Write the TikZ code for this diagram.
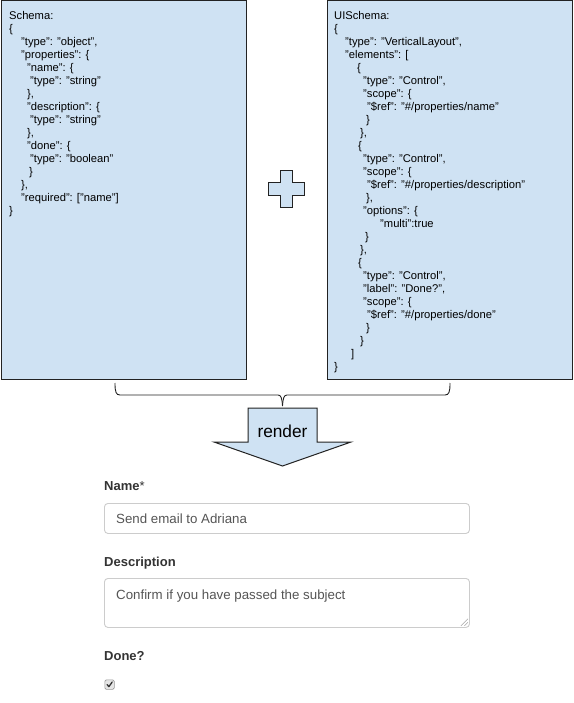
\documentclass[tikz,border=0pt]{standalone}
\usepackage{fontspec}
\setmainfont{Liberation Sans}
\definecolor{boxblue}{HTML}{CFE2F3}
\definecolor{boxline}{HTML}{222222}
\definecolor{lbl}{HTML}{333333}
\definecolor{inp}{HTML}{555555}
\definecolor{inborder}{HTML}{CCCCCC}
\newcommand\jl[2]{\hspace*{#1pt}#2\\}
\begin{document}
\begin{tikzpicture}[x=1pt,y=-1pt,
  bluebox/.style={draw=boxline, fill=boxblue, line width=1pt, inner sep=0pt, anchor=north west},
  code/.style={anchor=north west, inner sep=0pt, align=left, font=\fontsize{11.2}{13}\selectfont, text=black},
  lab/.style={anchor=base west, inner sep=0pt, font=\bfseries\fontsize{13}{15}\selectfont, text=lbl},
  field/.style={draw=inborder, fill=white, line width=0.9pt, rounded corners=3.5pt, inner sep=0pt, anchor=north west},
  fieldtext/.style={anchor=base west, inner sep=0pt, font=\fontsize{13.3}{15}\selectfont, text=inp}]
\useasboundingbox (0,0) rectangle (573,703);
\fill[white] (0,0) rectangle (573,703);

% boxes
\node[bluebox, minimum width=245pt, minimum height=378.5pt] (schemabox) at (0.5,0.5) {};
\node[bluebox, minimum width=245.5pt, minimum height=378.5pt] (uibox) at (326.5,0.5) {};

% schema text
\node[code] (schematext) at (9,9.5) {%
\jl{0}{\rule{0pt}{10pt}Schema:}%
\jl{0}{\{}%
\jl{12}{"type": "object",}%
\jl{12}{"properties": \{}%
\jl{18}{"name": \{}%
\jl{21}{"type": "string"}%
\jl{18}{\},}%
\jl{18}{"description": \{}%
\jl{21}{"type": "string"}%
\jl{18}{\},}%
\jl{18}{"done": \{}%
\jl{21}{"type": "boolean"}%
\jl{20}{\}}%
\jl{12}{\},}%
\jl{12}{"required": ["name"]}%
\hspace*{0pt}\}};

% uischema text
\node[code] (uitext) at (334,9.5) {%
\jl{0}{\rule{0pt}{10pt}UISchema:}%
\jl{0}{\{}%
\jl{11}{"type": "VerticalLayout",}%
\jl{11}{"elements": [}%
\jl{23}{\{}%
\jl{29}{"type": "Control",}%
\jl{29}{"scope": \{}%
\jl{33}{"\$ref": "\#/properties/name"}%
\jl{32}{\}}%
\jl{26}{\},}%
\jl{24}{\{}%
\jl{29}{"type": "Control",}%
\jl{29}{"scope": \{}%
\jl{33}{"\$ref": "\#/properties/description"}%
\jl{32}{\},}%
\jl{29}{"options": \{}%
\jl{46}{"multi":true}%
\jl{31}{\}}%
\jl{26}{\},}%
\jl{24}{\{}%
\jl{29}{"type": "Control",}%
\jl{29}{"label": "Done?",}%
\jl{29}{"scope": \{}%
\jl{33}{"\$ref": "\#/properties/done"}%
\jl{32}{\}}%
\jl{26}{\}}%
\jl{17}{]}%
\hspace*{0pt}\}};

% plus sign
\coordinate (plus) at (286,189.5);
\draw[draw=boxline, fill=boxblue, line width=1pt]
  (280,171) -- (292.5,171) -- (292.5,183) -- (304,183) -- (304,196) -- (292.5,196)
  -- (292.5,208) -- (280,208) -- (280,196) -- (268,196) -- (268,183) -- (280,183) -- cycle;

% brace
\coordinate (bl) at (115,383);
\coordinate (br) at (450,383);
\coordinate (bm) at (282.5,406);
\draw[boxline, line width=0.9pt]
  (bl) .. controls (115,392) and (116,395) .. (120,395) -- (278,395)
  .. controls (281,395) and (282,398) .. (bm);
\draw[boxline, line width=0.9pt]
  (br) .. controls (450,392) and (449,395) .. (445,395) -- (287,395)
  .. controls (284,395) and (283,398) .. (bm);

% render arrow
\draw[draw=boxline, fill=boxblue, line width=1pt]
  (248,408) -- (317,408) -- (317,442) -- (351,442) -- (282.5,466) -- (214,442) -- (248,442) -- cycle;
\node[anchor=base, inner sep=0pt, font=\fontsize{17.3}{20}\selectfont] (render) at (282.5,437) {render};

% form
\node[lab] (namelabel) at (104,490) {Name\mdseries*};
\node[field, minimum width=365pt, minimum height=30pt] (namefield) at (104,503) {};
\node[fieldtext] (nametext) at (116,523) {Send email to Adriana};

\node[lab] (desclabel) at (104,566) {Description};
\node[field, minimum width=365pt, minimum height=49pt] (descfield) at (104,578) {};
\node[fieldtext] (desctext) at (116,599) {Confirm if you have passed the subject};
\draw[gray!70, line width=0.6pt] (descfield.south east) ++(-9,-2) -- ++(7,-7)
  (descfield.south east) ++(-5.5,-2) -- ++(3.5,-3.5);

\node[lab] (donelabel) at (104,660) {Done?};
\node[draw=gray!80, fill=gray!20, rounded corners=1.5pt, line width=0.7pt, minimum size=9.5pt, inner sep=0pt, anchor=north west] (donebox) at (104.5,679.5) {};
\draw[black!80, line width=1.3pt, line cap=round, line join=round]
  ([shift={(-2.5,0)}]donebox.center) -- ([shift={(-0.7,2)}]donebox.center) -- ([shift={(2.6,-2.6)}]donebox.center);
\end{tikzpicture}
\end{document}
